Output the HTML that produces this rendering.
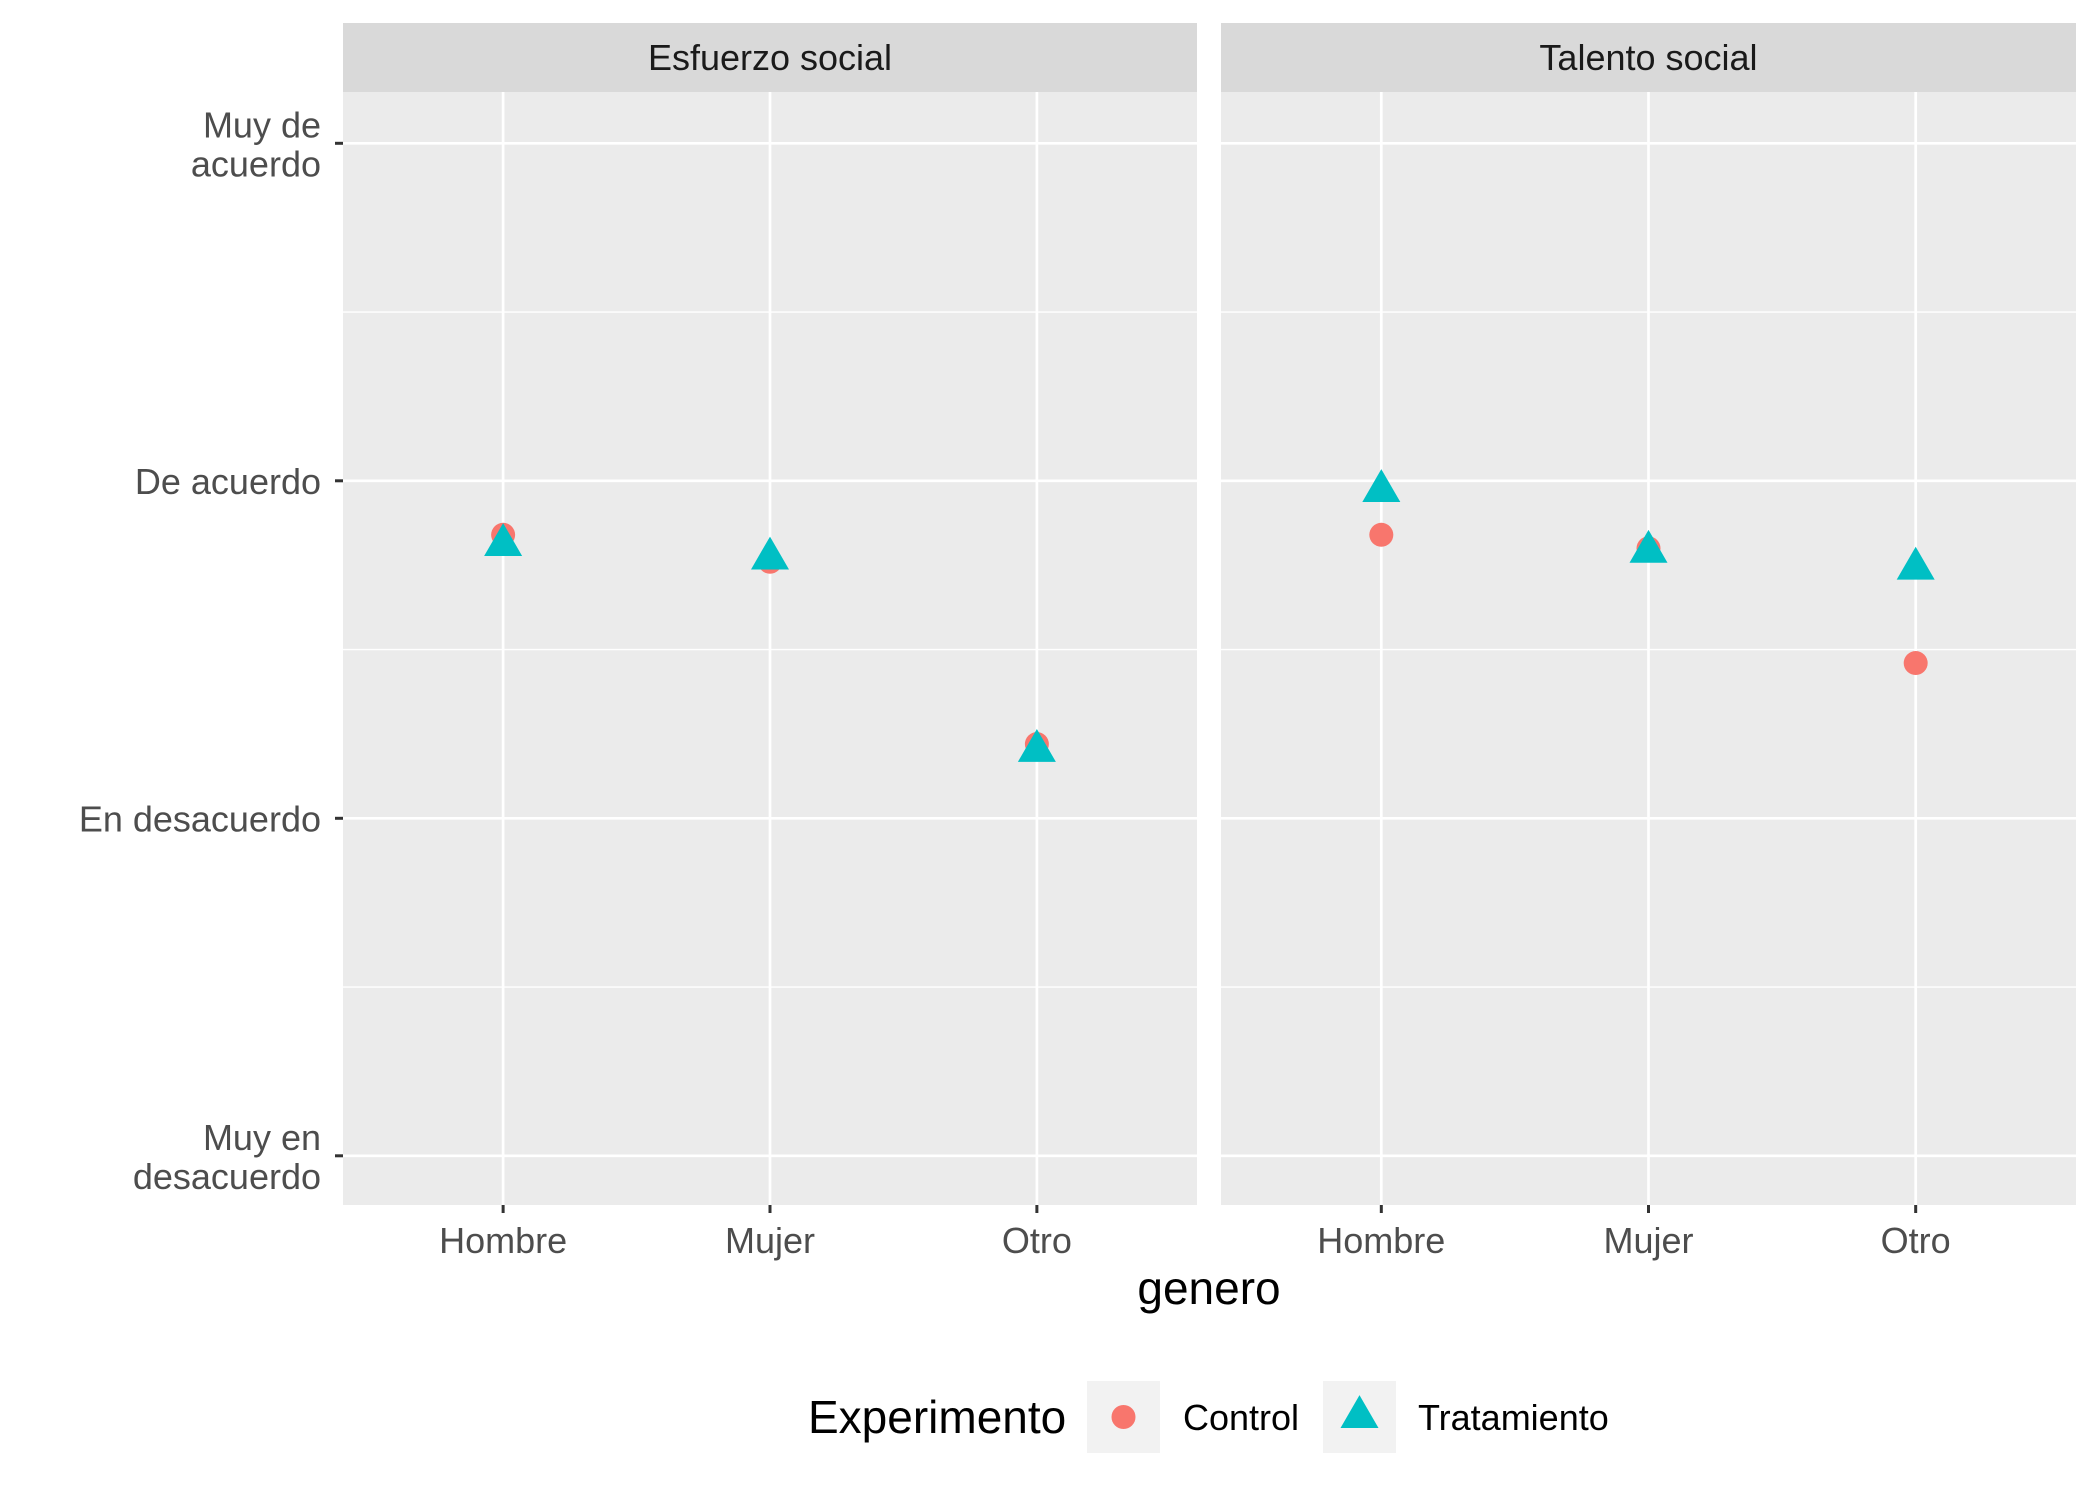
<!DOCTYPE html>
<html><head><meta charset="utf-8"><style>
html,body{margin:0;padding:0;background:#fff;}
svg{display:block;font-family:"Liberation Sans",Arial,sans-serif;}
</style></head><body>
<svg id="chart" width="2100" height="1499" viewBox="0 0 2100 1499" xmlns="http://www.w3.org/2000/svg">
<g id="plot"></g>
</svg>
<script>
const panels = ["Esfuerzo social","Talento social"];
const categories = ["Hombre","Mujer","Otro"];
const yTickLabels = [["Muy en","desacuerdo"],["En desacuerdo"],["De acuerdo"],["Muy de","acuerdo"]];
const controlEsfuerzo = [2.84, 2.76, 2.22];
const tratEsfuerzo = [2.81, 2.77, 2.20];
const controlTalento = [2.84, 2.80, 2.46];
const tratTalento = [2.97, 2.79, 2.74];

const NS="http://www.w3.org/2000/svg";
const g=document.getElementById('plot');
function mk(tag,attrs,parent){const e=document.createElementNS(NS,tag);for(const k in attrs)e.setAttribute(k,attrs[k]);(parent||g).appendChild(e);return e;}
const panelX=[[343,1197],[1221,2076]];
const plotTop=92, plotBottom=1205;
function yScale(v){return 1155.8-(v-1)*337.5;}
function xScale(p,i){const [a,b]=panelX[p];const w=b-a;return a+w*(0.5+(i-1)*0.3125);}
const series=[[controlEsfuerzo,tratEsfuerzo],[controlTalento,tratTalento]];

panelX.forEach(([a,b],p)=>{
  const bg=mk('rect',{x:a,y:plotTop,width:b-a,height:plotBottom-plotTop,fill:'#ebebeb'});
  
  
  const strip=mk('rect',{x:a,y:23,width:b-a,height:plotTop-23,fill:'#d9d9d9'});
  
  
  const st=mk('text',{x:(a+b)/2,y:70,'text-anchor':'middle','font-size':36,fill:'#1a1a1a'});
  st.textContent=panels[p];
  
  
  for(let v=1.5;v<=4;v+=1){const l=mk('line',{x1:a,x2:b,y1:yScale(v),y2:yScale(v),stroke:'#fff','stroke-width':1.4});}
  for(let v=1;v<=4;v++){const l=mk('line',{x1:a,x2:b,y1:yScale(v),y2:yScale(v),stroke:'#fff','stroke-width':2.7});}
  categories.forEach((c,i)=>{
    const x=xScale(p,i);
    const l=mk('line',{x1:x,x2:x,y1:plotTop,y2:plotBottom,stroke:'#fff','stroke-width':2.7});
    
    const t=mk('line',{x1:x,x2:x,y1:plotBottom,y2:plotBottom+8,stroke:'#333','stroke-width':3});
    
    const tx=mk('text',{x:x,y:1253,'text-anchor':'middle','font-size':36,fill:'#4d4d4d'});
    tx.textContent=c;
    
  });
  const [ctrl,trt]=series[p];
  ctrl.forEach((v,i)=>{const c=mk('circle',{cx:xScale(p,i),cy:yScale(v),r:12,fill:'#F8766D'});});
  trt.forEach((v,i)=>{const x=xScale(p,i),y=yScale(v),s=19;
    const t=mk('polygon',{points:`${x},${y-s*1.15} ${x-s},${y+s*0.58} ${x+s},${y+s*0.58}`,fill:'#00BFC4'});
    });
});
yTickLabels.forEach((lines,k)=>{
  const y=yScale(k+1);
  const t=mk('line',{x1:335,x2:343,y1:y,y2:y,stroke:'#333','stroke-width':3});
  
  const tx=mk('text',{x:321,'text-anchor':'end','font-size':36,fill:'#4d4d4d'});
  
  const y0 = lines.length===1? y+13 : y-6;
  lines.forEach((s,j)=>{const ts=mk('tspan',{x:321,y:y0+j*39},tx);ts.textContent=s;});
});
const xt=mk('text',{x:1209,y:1304,'text-anchor':'middle','font-size':46,fill:'#000'});
xt.textContent='genero';
const lt=mk('text',{x:808,y:1433,'font-size':46,fill:'#000'});
lt.textContent='Experimento';
const k1=mk('rect',{x:1087,y:1381,width:73,height:72,fill:'#f2f2f2'});
const c1=mk('circle',{cx:1123.5,cy:1417,r:12,fill:'#F8766D'});
const l1=mk('text',{x:1183,y:1430,'font-size':36,fill:'#000'});l1.textContent='Control';
const k2=mk('rect',{x:1323,y:1381,width:73,height:72,fill:'#f2f2f2'});
const x2=1359.5,y2=1417,s2=19;
const t2=mk('polygon',{points:`${x2},${y2-s2*1.15} ${x2-s2},${y2+s2*0.58} ${x2+s2},${y2+s2*0.58}`,fill:'#00BFC4'});
const l2=mk('text',{x:1418,y:1430,'font-size':36,fill:'#000'});l2.textContent='Tratamiento';
</script>
</body></html>
